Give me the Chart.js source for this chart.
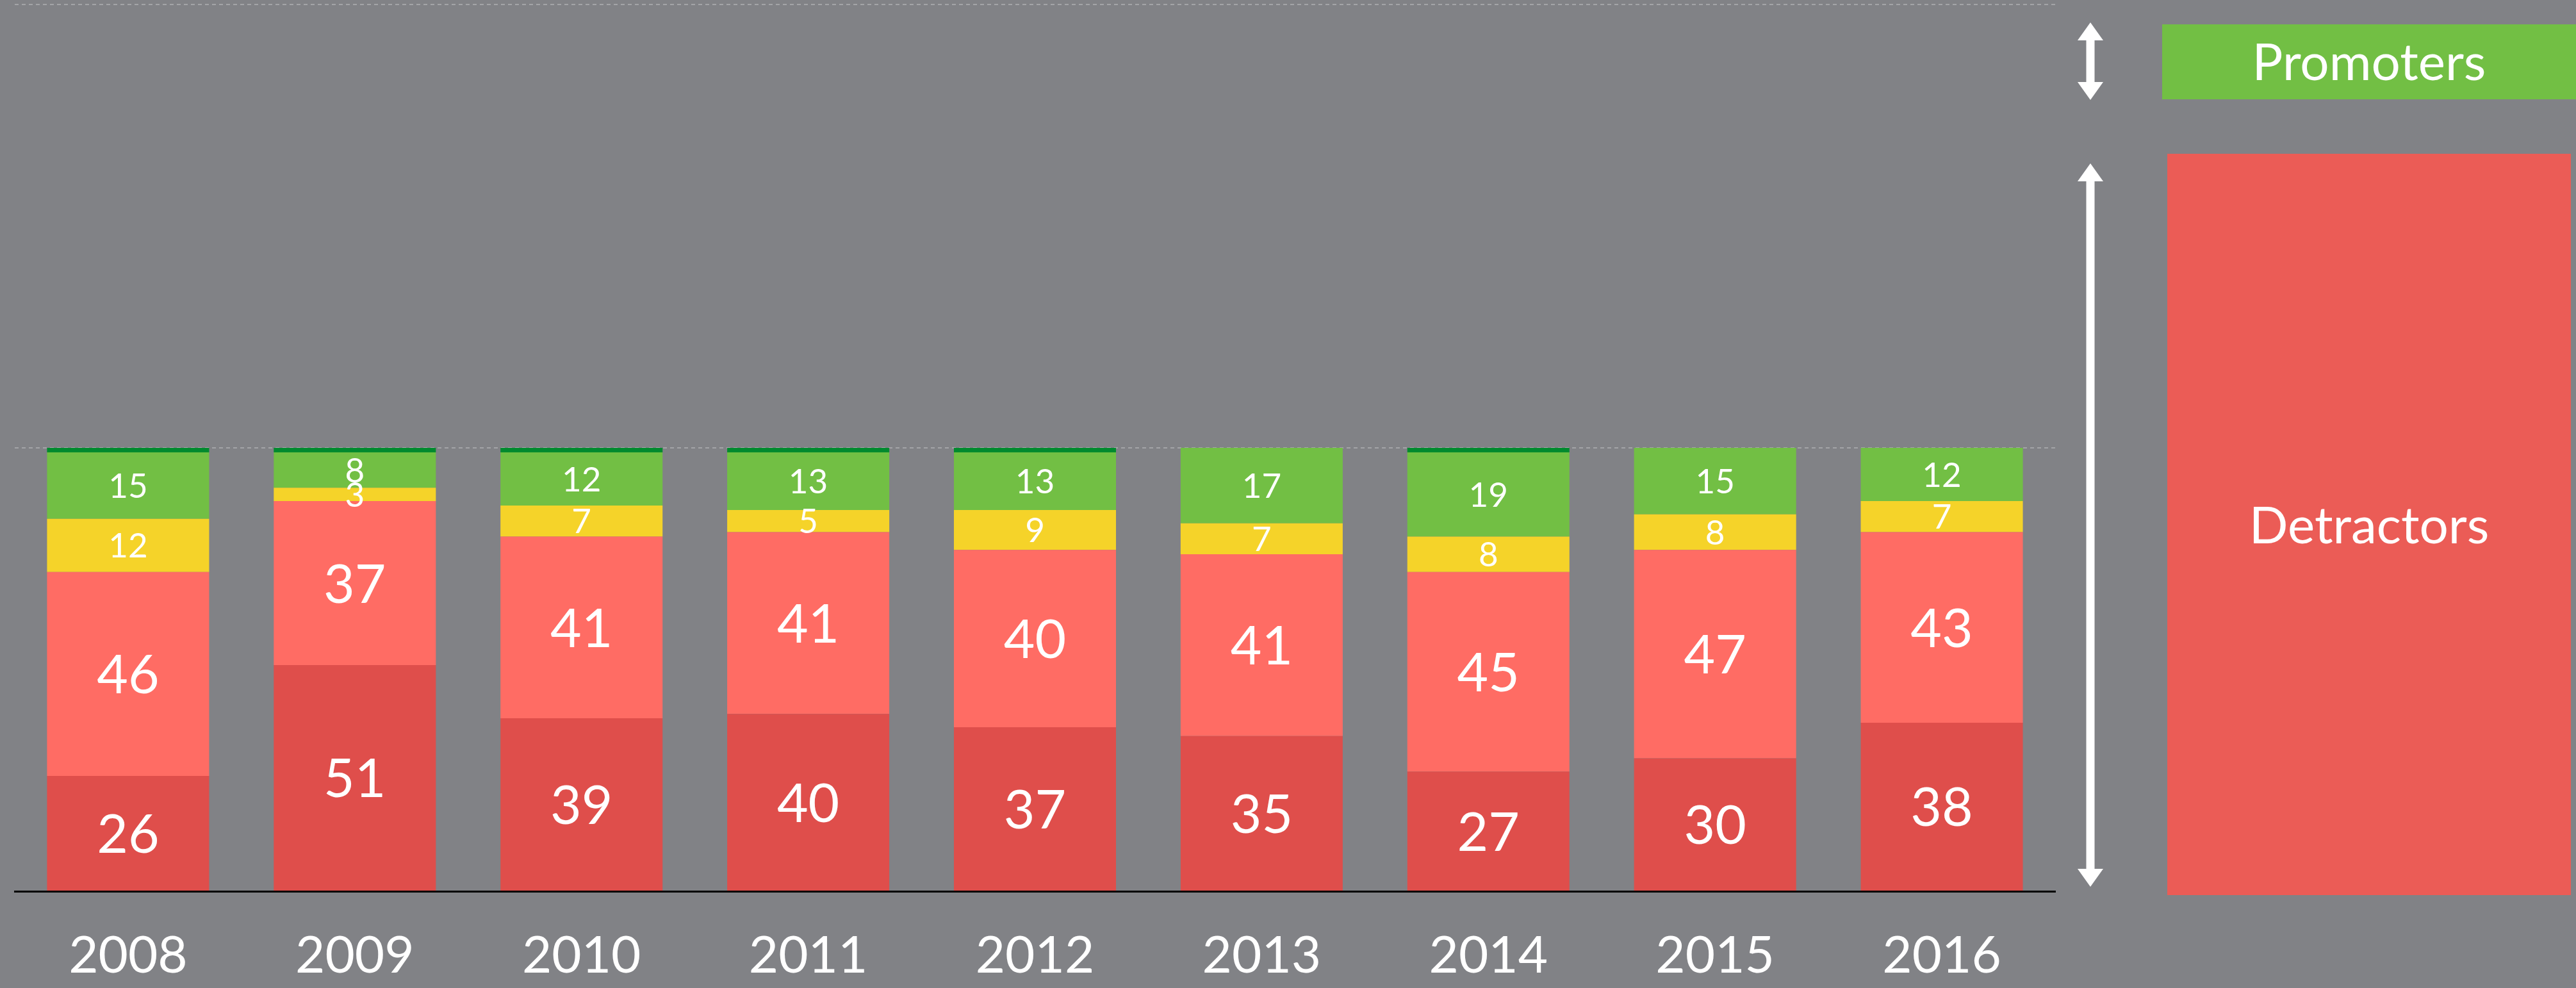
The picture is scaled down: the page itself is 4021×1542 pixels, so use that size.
<!DOCTYPE html>
<html>
<head>
<meta charset="utf-8">
<title>NPS by year</title>
<script src="https://cdn.jsdelivr.net/npm/chart.js@4"></script>
<style>
  html, body { margin: 0; padding: 0; background: #818286; }
  #wrap { width: 4021px; height: 1542px; position: relative; }
</style>
</head>
<body>
<div id="wrap"><canvas id="plot1"></canvas></div>
<script>
// data (percent of respondents per year)
const years = ['2008', '2009', '2010', '2011', '2012', '2013', '2014', '2015', '2016'];
const strongDetractors = [26, 51, 39, 40, 37, 35, 27, 30, 38];
const detractors = [46, 37, 41, 41, 40, 41, 45, 47, 43];
const passives = [12, 3, 7, 5, 9, 7, 8, 8, 7];
const promoters = [15, 8, 12, 13, 13, 17, 19, 15, 12];
const strongPromoters = [1, 1, 1, 1, 1, 0, 1, 0, 0];

const yMax = 200;
const yStep = 100;

const BG = '#818286';

// value labels in the middle of each segment
const segmentLabels = {
    id: 'segmentLabels',
    afterDatasetsDraw(chart) {
        const ctx = chart.ctx;
        ctx.save();
        ctx.fillStyle = '#ffffff';
        ctx.textAlign = 'center';
        ctx.textBaseline = 'middle';
        chart.data.datasets.forEach((ds, i) => {
            if (!ds.labelSize) return;
            ctx.font = ds.labelSize + 'px Lato';
            chart.getDatasetMeta(i).data.forEach((bar, j) => {
                const p = bar.getProps(['x', 'y', 'base'], true);
                ctx.fillText(String(ds.data[j]), p.x, (p.y + p.base) / 2 + ds.labelSize * 0.04);
            });
        });
        ctx.restore();
    }
};

// arrows and the two boxes on the right
function drawArrow(ctx, x, y1, y2) {
    const shaft = 13, headW = 40, headL = 28;
    ctx.fillRect(x - shaft / 2, y1 + headL - 1, shaft, y2 - y1 - 2 * headL + 2);
    ctx.beginPath();
    ctx.moveTo(x, y1);
    ctx.lineTo(x + headW / 2, y1 + headL);
    ctx.lineTo(x - headW / 2, y1 + headL);
    ctx.closePath();
    ctx.fill();
    ctx.beginPath();
    ctx.moveTo(x, y2);
    ctx.lineTo(x + headW / 2, y2 - headL);
    ctx.lineTo(x - headW / 2, y2 - headL);
    ctx.closePath();
    ctx.fill();
}

const sideNotes = {
    id: 'sideNotes',
    afterDraw(chart) {
        const ctx = chart.ctx;
        const area = chart.chartArea;
        const ax = area.right + 55;
        ctx.save();
        ctx.fillStyle = '#ffffff';
        drawArrow(ctx, ax, area.top + 28, area.top + 149);
        drawArrow(ctx, ax, area.top + 248, area.bottom - 7);

        ctx.fillStyle = '#72bf44';
        ctx.fillRect(area.right + 167, area.top + 31, chart.width - area.right - 167, 117);
        ctx.fillStyle = '#eb5c56';
        ctx.fillRect(area.right + 175, area.top + 233, 630, area.bottom - area.top - 227);

        ctx.fillStyle = '#ffffff';
        ctx.font = '80px Lato';
        ctx.textAlign = 'center';
        ctx.textBaseline = 'middle';
        ctx.fillText('Promoters', area.right + 490, area.top + 92);
        ctx.fillText('Detractors', area.right + 490, area.top + 815);
        ctx.restore();
    }
};

Chart.defaults.font.family = 'Lato';

const plot1 = document.getElementById('plot1').getContext('2d');
new Chart(plot1, {
    type: 'bar',
    data: {
        labels: years,
        datasets: [
            { label: 'Strong detractors', data: strongDetractors, backgroundColor: '#df4e4b', labelSize: 84 },
            { label: 'Detractors', data: detractors, backgroundColor: '#ff6c64', labelSize: 84 },
            { label: 'Passives', data: passives, backgroundColor: '#f5d329', labelSize: 53 },
            { label: 'Promoters', data: promoters, backgroundColor: '#72bf44', labelSize: 53 },
            { label: 'Strong promoters', data: strongPromoters, backgroundColor: '#008a2e', labelSize: 0 }
        ]
    },
    options: {
        responsive: true,
        maintainAspectRatio: false,
        animation: false,
        datasets: {
            bar: {
                categoryPercentage: 1,
                barPercentage: 0.715,
                borderWidth: 0
            }
        },
        layout: {
            padding: { left: 23, right: 813, top: 7, bottom: 0 }
        },
        plugins: {
            legend: { display: false },
            tooltip: { enabled: false }
        },
        scales: {
            x: {
                stacked: true,
                grid: { display: false, drawTicks: false },
                border: { display: true, color: '#000000', width: 3, z: 1 },
                ticks: {
                    color: '#ffffff',
                    font: { size: 80 },
                    padding: 53
                },
                afterFit(scale) { scale.height = 151; }
            },
            y: {
                stacked: true,
                min: 0,
                max: yMax,
                ticks: { display: false, stepSize: yStep },
                grid: {
                    drawTicks: false,
                    lineWidth: 2,
                    color: (c) => (c.tick && c.tick.value === 0) ? 'rgba(0,0,0,0)' : '#a3a4a7'
                },
                border: { display: false, dash: [6, 5] },
                afterFit(scale) { scale.width = 0; }
            }
        }
    },
    plugins: [segmentLabels, sideNotes]
});
</script>
</body>
</html>
